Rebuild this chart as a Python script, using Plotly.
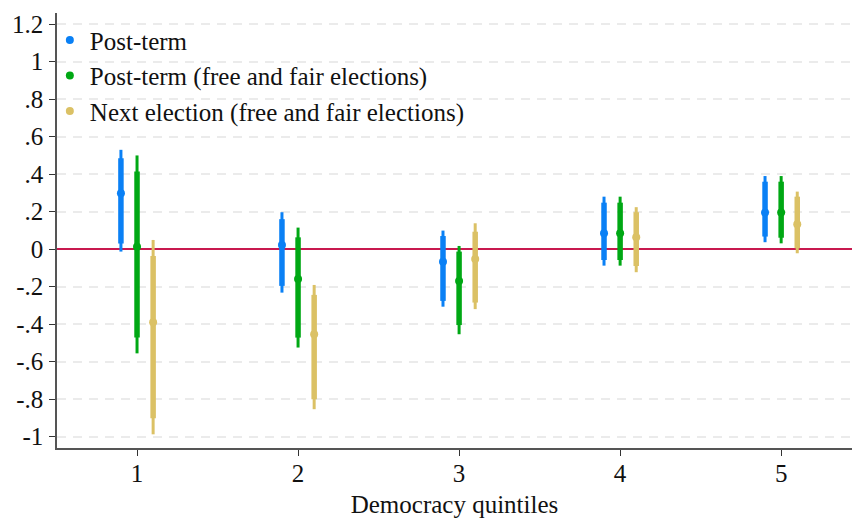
import plotly.graph_objects as go

# Democracy quintiles on the x axis
quintiles = [1, 2, 3, 4, 5]

series_names = [
    "Post-term",
    "Post-term (free and fair elections)",
    "Next election (free and fair elections)",
]

# Point estimates, inner (thick) and outer (thin) confidence bounds
post_est = [0.298, 0.022, -0.067, 0.085, 0.195]
post_lo90 = [0.030, -0.196, -0.276, -0.058, 0.067]
post_hi90 = [0.485, 0.160, 0.070, 0.248, 0.360]
post_lo95 = [-0.013, -0.232, -0.307, -0.088, 0.037]
post_hi95 = [0.530, 0.197, 0.099, 0.280, 0.390]

ffe_est = [0.013, -0.159, -0.170, 0.085, 0.195]
ffe_lo90 = [-0.472, -0.472, -0.405, -0.058, 0.061]
ffe_hi90 = [0.414, 0.063, -0.013, 0.248, 0.360]
ffe_lo95 = [-0.556, -0.525, -0.454, -0.088, 0.031]
ffe_hi95 = [0.500, 0.115, 0.017, 0.280, 0.390]

next_est = [-0.390, -0.454, -0.052, 0.063, 0.133]
next_lo90 = [-0.902, -0.801, -0.285, -0.090, 0.005]
next_hi90 = [-0.036, -0.244, 0.093, 0.197, 0.280]
next_lo95 = [-0.988, -0.854, -0.320, -0.123, -0.022]
next_hi95 = [0.049, -0.191, 0.138, 0.224, 0.307]

y_tick_vals = [1.2, 1, 0.8, 0.6, 0.4, 0.2, 0, -0.2, -0.4, -0.6, -0.8, -1]
y_tick_text = ["1.2", "1", ".8", ".6", ".4", ".2", "0", "-.2", "-.4", "-.6", "-.8", "-1"]

colors = ["#0a80f5", "#00a814", "#dbc165"]
offsets = [-0.1, 0.0, 0.1]

series = [
    (post_est, post_lo90, post_hi90, post_lo95, post_hi95),
    (ffe_est, ffe_lo90, ffe_hi90, ffe_lo95, ffe_hi95),
    (next_est, next_lo90, next_hi90, next_lo95, next_hi95),
]

FONT = "Liberation Serif"
FSIZE = 25
TXT = "#111111"

fig = go.Figure()

for i, (est, lo90, hi90, lo95, hi95) in enumerate(series):
    xs = [q + offsets[i] for q in quintiles]
    c = colors[i]
    grp = f"g{i}"
    # outer interval (thin)
    fig.add_trace(go.Scatter(
        x=xs, y=est, mode="markers",
        marker=dict(size=1, color=c, opacity=0),
        error_y=dict(type="data", symmetric=False,
                     array=[h - e for h, e in zip(hi95, est)],
                     arrayminus=[e - l for e, l in zip(est, lo95)],
                     color=c, thickness=3, width=0),
        legendgroup=grp, showlegend=False, hoverinfo="skip",
    ))
    # inner interval (thick)
    fig.add_trace(go.Scatter(
        x=xs, y=est, mode="markers",
        marker=dict(size=1, color=c, opacity=0),
        error_y=dict(type="data", symmetric=False,
                     array=[h - e for h, e in zip(hi90, est)],
                     arrayminus=[e - l for e, l in zip(est, lo90)],
                     color=c, thickness=5.5, width=0),
        legendgroup=grp, showlegend=False, hoverinfo="skip",
    ))
    # point estimate
    fig.add_trace(go.Scatter(
        x=xs, y=est, mode="markers", name=series_names[i],
        marker=dict(size=8, color=c),
        legendgroup=grp,
    ))

fig.update_layout(
    width=852, height=518,
    margin=dict(l=57, r=0, t=13, b=70),
    paper_bgcolor="white", plot_bgcolor="white",
    font=dict(family=FONT, size=FSIZE, color=TXT),
    showlegend=True,
    legend=dict(x=-0.009, y=0.99, xanchor="left", yanchor="top",
                bgcolor="rgba(0,0,0,0)", borderwidth=0,
                font=dict(family=FONT, size=FSIZE, color=TXT),
                itemwidth=30, tracegroupgap=0),
    # white panel behind the legend hides the gridlines there
    shapes=[dict(type="rect", xref="paper", yref="paper",
                 x0=0.0, x1=0.626, y0=0.73, y1=1.0,
                 fillcolor="white", line=dict(width=0), layer="between")],
)

fig.update_xaxes(
    range=[0.503, 5.44], tickmode="array", tickvals=quintiles,
    ticktext=[str(q) for q in quintiles],
    tickfont=dict(family=FONT, size=FSIZE, color=TXT),
    showgrid=False, zeroline=False,
    showline=True, linecolor="#555555", linewidth=1.5,
    ticks="outside", ticklen=6, tickwidth=1.2, tickcolor="#333333",
    ticklabelstandoff=-4,
    title=dict(text="Democracy quintiles", standoff=10,
               font=dict(family=FONT, size=FSIZE, color=TXT)),
)

fig.update_yaxes(
    range=[-1.061, 1.26], tickmode="array", tickvals=y_tick_vals,
    ticktext=y_tick_text,
    tickfont=dict(family=FONT, size=FSIZE, color=TXT),
    showgrid=True, gridcolor="#ebebeb", gridwidth=1.5, griddash="9px,7px",
    zeroline=True, zerolinecolor="#c8194f", zerolinewidth=1.5,
    showline=True, linecolor="#555555", linewidth=1.5,
    ticks="outside", ticklen=6, tickwidth=1.2, tickcolor="#333333",
    ticklabelstandoff=1,
)

fig.write_html("out.html")
